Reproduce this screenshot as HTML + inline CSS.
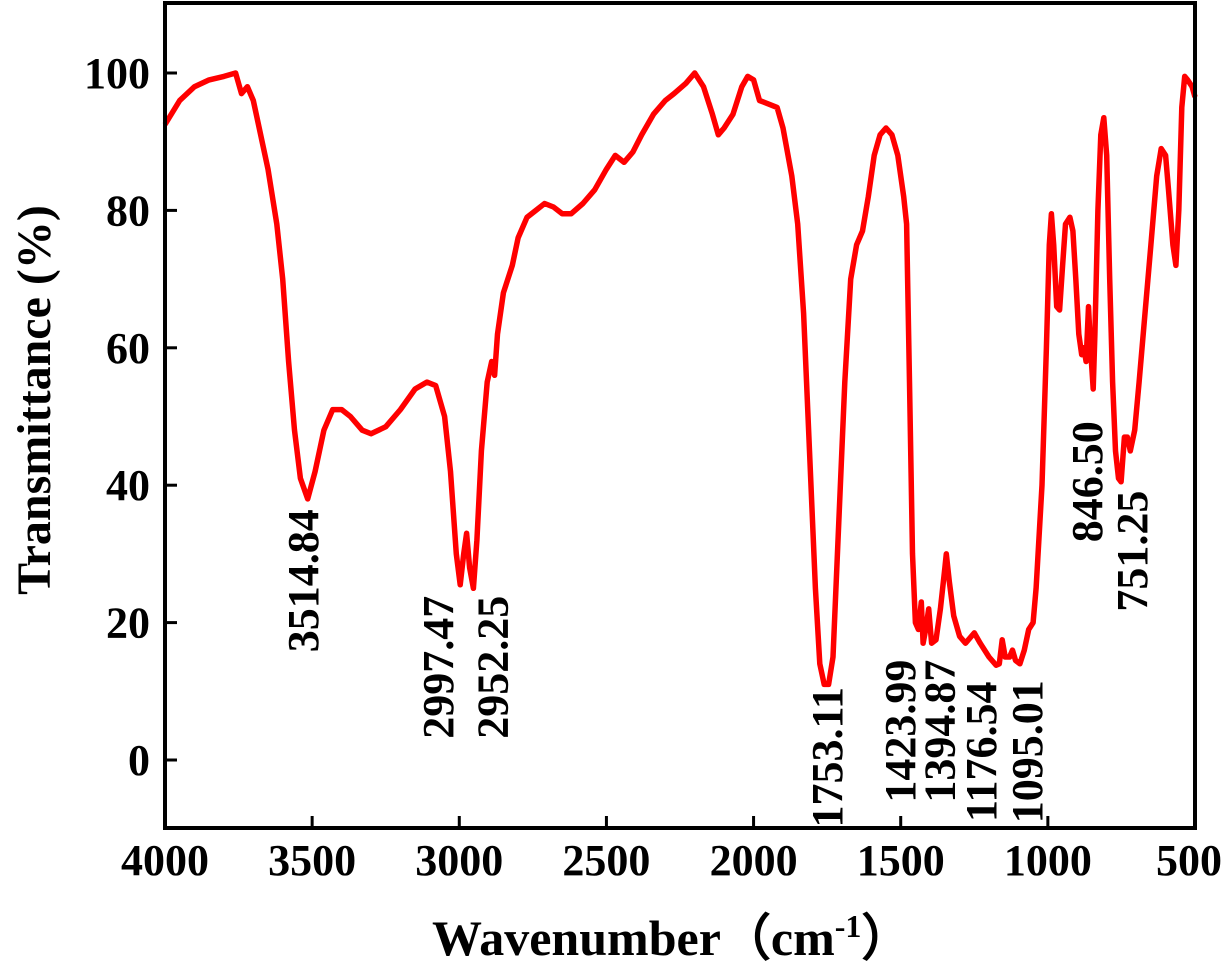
<!DOCTYPE html>
<html><head><meta charset="utf-8">
<style>
html,body{margin:0;padding:0;background:#fff;}
svg{display:block;font-family:"Liberation Serif",serif;}
</style></head>
<body>
<svg id="chart" width="1228" height="967" viewBox="0 0 1228 967" xmlns="http://www.w3.org/2000/svg">
<g id="ticks" font-weight="bold"></g>
<path id="curve" fill="none" stroke="#ff0000" stroke-width="5.5" stroke-linejoin="round"></path>
<g id="peaks" font-weight="bold"></g>
<rect x="165" y="3" width="1030" height="825" fill="none" stroke="#000" stroke-width="4"/>
<text x="432" y="955" font-weight="bold" font-size="50">Wavenumber（cm<tspan font-size="32" dy="-18">-1</tspan><tspan dy="18">）</tspan></text>
<text transform="translate(50,400) rotate(-90)" text-anchor="middle" font-weight="bold" font-size="48">Transmittance (%)</text>
</svg>
<script>
const wavenumbers=[4000,3950,3900,3850,3800,3760,3740,3720,3700,3680,3650,3620,3600,3580,3560,3540,3515,3490,3460,3430,3400,3370,3330,3300,3250,3200,3150,3110,3080,3050,3030,3010,2997,2985,2975,2965,2952,2940,2925,2905,2890,2880,2870,2850,2820,2800,2770,2740,2710,2680,2650,2620,2580,2540,2500,2470,2440,2410,2380,2340,2300,2270,2230,2200,2170,2140,2120,2100,2070,2040,2020,2000,1980,1950,1920,1900,1870,1850,1830,1810,1790,1775,1760,1745,1730,1710,1690,1670,1650,1630,1610,1590,1570,1550,1530,1510,1490,1480,1470,1460,1450,1440,1430,1424,1415,1405,1395,1380,1365,1350,1345,1335,1320,1300,1280,1250,1230,1200,1176,1165,1155,1145,1130,1120,1110,1095,1080,1065,1050,1040,1020,1005,995,988,980,970,960,950,940,925,915,905,895,885,878,870,862,855,846,840,830,820,810,800,790,780,770,760,751,740,730,720,705,690,670,650,630,615,600,590,575,565,555,545,535,525,510,500];
const transmittance=[92.5,96,98,99,99.5,100,97,98,96,92,86,78,70,58,48,41,38,42,48,51,51,50,48,47.5,48.5,51,54,55,54.5,50,42,30,25.5,30,33,28,25,32,45,55,58,56,62,68,72,76,79,80,81,80.5,79.5,79.5,81,83,86,88,87,88.5,91,94,96,97,98.5,100,98,94,91,92,94,98,99.5,99,96,95.5,95,92,85,78,65,45,25,14,11,11,15,35,55,70,75,77,82,88,91,92,91,88,82,78,55,30,20,19,23,17,19,22,17,17.5,22,28,30,26,21,18,17,18.5,17,15,13.8,14,17.5,15,15,16,14.5,14,16,19,20,25,40,60,75,79.5,75,66,65.5,72,78,79,77,70,62,59,60,58,66,60,54,62,80,91,93.5,88,70,55,45,41,40.5,47,47,45,48,55,65,75,85,89,88,83,75,72,80,95,99.5,99,98,96.5];
const xTicks=[4000,3500,3000,2500,2000,1500,1000,500];
const yTicks=[0,20,40,60,80,100];
const peakLabels=["3514.84","2997.47","2952.25","1753.11","1423.99","1394.87","1176.54","1095.01","846.50","751.25"];
const peakPos=[3514.84,2997.47,2952.25,1753.11,1423.99,1394.87,1176.54,1095.01,846.50,751.25];
const peakCenterY=[26.1,13.5,13.5,0.4,4.2,4.2,1.2,1.2,40.5,30.4];
const peakDx=[-5,-22,19,1,-23,8,-15,7,-6,11];

const X=w=>165+(4000-w)*1030/3500;
const Y=t=>760-t*6.87;
const ns="http://www.w3.org/2000/svg";
let d="";
for(let i=0;i<wavenumbers.length;i++){d+=(i?"L":"M")+X(wavenumbers[i]).toFixed(1)+","+Y(transmittance[i]).toFixed(1);}
document.getElementById("curve").setAttribute("d",d);
const tg=document.getElementById("ticks");
xTicks.forEach(v=>{
  const l=document.createElementNS(ns,"line");
  
  
  l.setAttribute("x1",X(v));l.setAttribute("x2",X(v));l.setAttribute("y1",828);l.setAttribute("y2",816);
  l.setAttribute("stroke","#000");l.setAttribute("stroke-width",3);tg.appendChild(l);
  const t=document.createElementNS(ns,"text");
  
  
  let ax=X(v);if(v===500)ax=X(v)-6;
  t.setAttribute("x",ax);t.setAttribute("y",875);t.setAttribute("text-anchor","middle");t.setAttribute("font-size","44");
  t.textContent=v;tg.appendChild(t);
});
yTicks.forEach(v=>{
  const l=document.createElementNS(ns,"line");
  
  
  l.setAttribute("x1",165);l.setAttribute("x2",177);l.setAttribute("y1",Y(v));l.setAttribute("y2",Y(v));
  l.setAttribute("stroke","#000");l.setAttribute("stroke-width",3);tg.appendChild(l);
  const t=document.createElementNS(ns,"text");
  
  
  t.setAttribute("x",150);t.setAttribute("y",Y(v)+15);t.setAttribute("text-anchor","end");t.setAttribute("font-size","44");
  t.textContent=v;tg.appendChild(t);
});
const pg=document.getElementById("peaks");
peakLabels.forEach((s,i)=>{
  const t=document.createElementNS(ns,"text");
  
  
  const cx=X(peakPos[i])+peakDx[i]+15, cy=Y(peakCenterY[i]);
  t.setAttribute("transform","translate("+cx+","+cy+") rotate(-90)");
  t.setAttribute("text-anchor","middle");t.setAttribute("font-size","44");
  t.textContent=s;pg.appendChild(t);
});
</script>
</body></html>
